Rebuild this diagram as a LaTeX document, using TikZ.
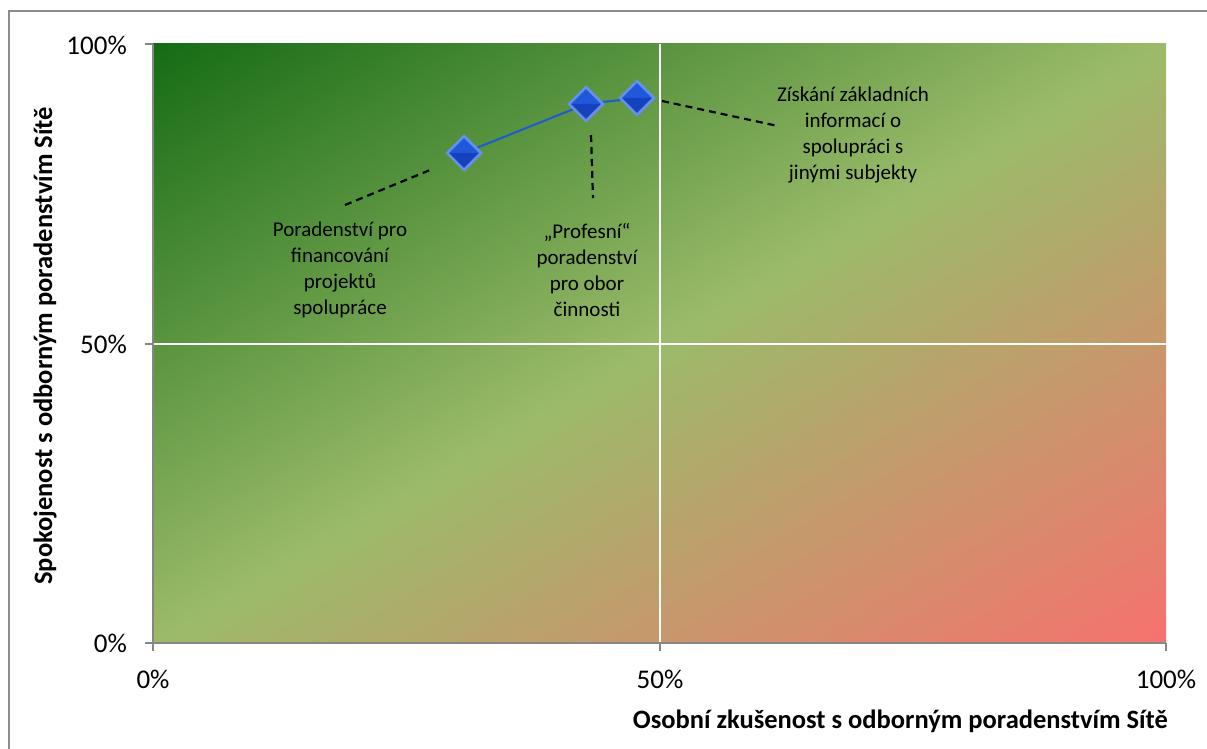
\documentclass[tikz,border=0pt]{standalone}
\usepackage{fontspec}
\setmainfont{Carlito}
\usetikzlibrary{shapes.geometric, positioning, calc, shadows}

\definecolor{darkgreen}{RGB}{22, 108, 20}
\definecolor{lightgreen}{RGB}{155, 187, 106}
\definecolor{salmonred}{RGB}{246, 114, 110}
\definecolor{axisgray}{RGB}{134, 134, 134}
\definecolor{framegray}{RGB}{140, 140, 140}
\definecolor{markerblue}{RGB}{32, 88, 220}
\definecolor{markerdark}{RGB}{22, 66, 190}
\definecolor{markeredge}{RGB}{100, 145, 235}
\definecolor{seriesblue}{RGB}{30, 90, 210}

\pgfdeclarehorizontalshading{quadrants}{100bp}{%
  color(0bp)=(darkgreen); color(14.64bp)=(darkgreen);
  color(50bp)=(lightgreen);
  color(85.36bp)=(salmonred); color(100bp)=(salmonred)}

\tikzset{
  datapoint/.style={diamond, minimum width=35pt, minimum height=35pt, inner sep=0pt,
    fill=markerblue, draw=markeredge, line width=2.5pt,
    drop shadow={shadow xshift=2pt, shadow yshift=-2pt, opacity=0.3},
    path picture={\fill[markerdark] (path picture bounding box.west) --
      (path picture bounding box.east) -- (path picture bounding box.south) -- cycle;}},
  leader/.style={black, line width=2.2pt, dash pattern=on 7pt off 5pt},
  callout/.style={font=\fontsize{21}{26}\selectfont, align=center, inner sep=0pt},
  ticklabel/.style={font=\fontsize{27}{30}\selectfont, inner sep=0pt},
  axistitle/.style={font=\bfseries\fontsize{26.5}{30}\selectfont, inner sep=0pt}
}

\begin{document}
\begin{tikzpicture}[x=1pt, y=-1pt]
  \useasboundingbox (0,0) rectangle (1207,749);
  \clip (0,0) rectangle (1207,749);
  \fill[white] (0,0) rectangle (1207,749);
  \draw[framegray, line width=1.5pt] (9,11) rectangle (1220,760);

  % plot area, square shading stretched sideways
  \begin{scope}[transform canvas={shift={(153,44)}, xscale=1.69115}]
    \shade[shading=quadrants, shading angle=-45] (0,0) rectangle (599,599);
  \end{scope}
  \draw[white, line width=1.5pt] (660,44) -- (660,643);
  \draw[white, line width=1.5pt] (153,344) -- (1166,344);

  % axes
  \draw[axisgray, line width=1.5pt] (153,44) -- (153,651);
  \draw[axisgray, line width=1.5pt] (145,643) -- (1166,643);
  \foreach \yy in {44, 344} \draw[axisgray, line width=1.5pt] (145,\yy) -- (153,\yy);
  \foreach \xx in {660, 1166} \draw[axisgray, line width=1.5pt] (\xx,643) -- (\xx,651);

  \node[ticklabel, anchor=east] (y100) at (127,45) {100\%};
  \node[ticklabel, anchor=east] (y50) at (127,344) {50\%};
  \node[ticklabel, anchor=east] (y0) at (127,643) {0\%};
  \node[ticklabel] (x0) at (153,679) {0\%};
  \node[ticklabel] (x50) at (660,679) {50\%};
  \node[ticklabel] (x100) at (1166,679) {100\%};

  \node[axistitle, anchor=east] (xtitle) at (1168,721) {Osobní zkušenost s odborným poradenstvím Sítě};
  \node[axistitle, rotate=90] (ytitle) at (45,346) {Spokojenost s odborným poradenstvím Sítě};

  % series
  \coordinate (p1) at (464,153);
  \coordinate (p2) at (586,104);
  \coordinate (p3) at (637,98);
  \draw[seriesblue, line width=2pt] (p1) -- (p2) -- (p3);
  \node[datapoint] (m1) at (p1) {};
  \node[datapoint] (m2) at (p2) {};
  \node[datapoint] (m3) at (p3) {};

  % Point 1
  \node[callout] (lab1) at (340,270) {Poradenství pro\\financování\\projektů\\spolupráce};
  \coordinate (l1a) at (345,205);
  \coordinate (l1b) at (430,170);
  \draw[leader] (l1a) -- (l1b);

  % Point 2
  \node[callout] (lab2) at (587,270) {„Profesní“\\poradenství\\pro obor\\činnosti};
  \coordinate (l2a) at (591,135);
  \coordinate (l2b) at (593,198);
  \draw[leader] (l2a) -- (l2b);

  % Point 3
  \node[callout] (lab3) at (853,135) {Získání základních\\informací o\\spolupráci s\\jinými subjekty};
  \coordinate (l3a) at (662,101);
  \coordinate (l3b) at (778,126);
  \draw[leader] (l3a) -- (l3b);
\end{tikzpicture}
\end{document}
